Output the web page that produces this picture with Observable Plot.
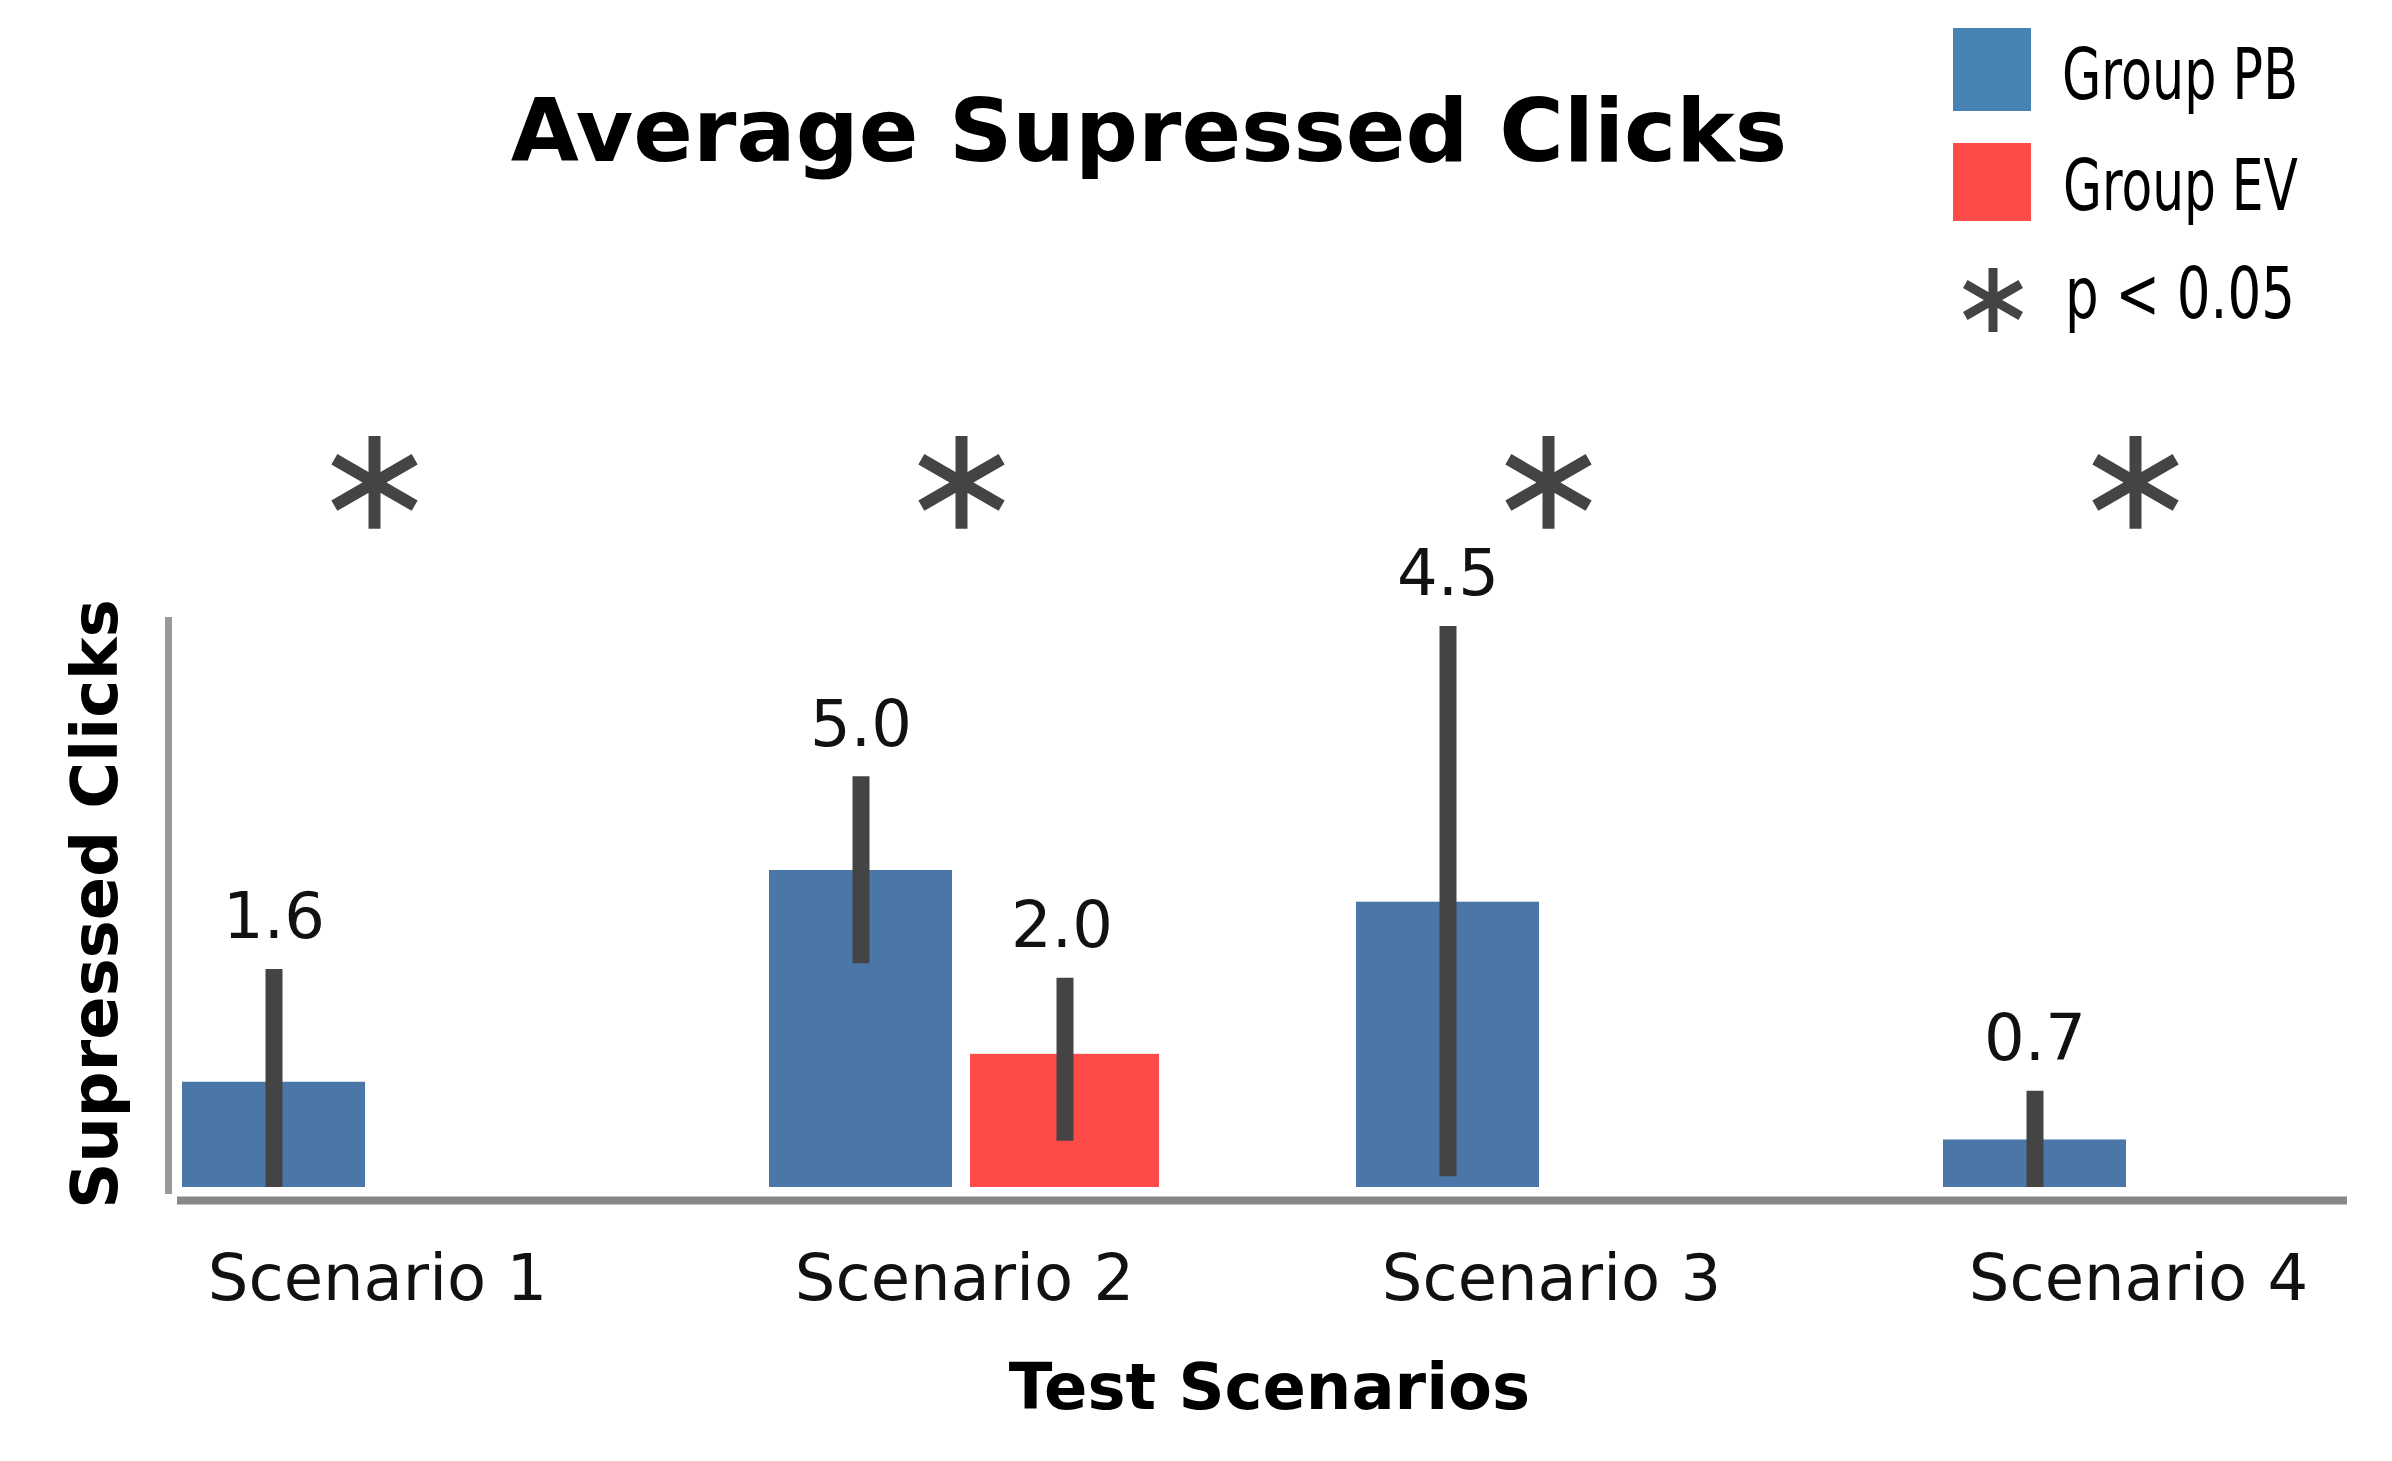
<!DOCTYPE html>
<html>
<head>
<meta charset="utf-8">
<script src="https://cdn.jsdelivr.net/npm/d3@7"></script>
<script src="https://cdn.jsdelivr.net/npm/@observablehq/plot@0.6"></script>
<style>
  html, body { margin: 0; padding: 0; background: #ffffff; }
  #wrap { width: 2392px; height: 1461px; position: relative; overflow: hidden; font-family: "DejaVu Sans", Verdana, sans-serif; }
  #header { width: 2392px; height: 400px; position: relative; }
  #chart svg { display: block; }
</style>
</head>
<body>
<div id="wrap">
  <div id="header"></div>
  <div id="chart"></div>
</div>
<script>
// ---------- data ----------
const title = "Average Supressed Clicks";
const xTitle = "Test Scenarios";
const yTitle = "Supressed Clicks";
const scenarios = ["Scenario 1", "Scenario 2", "Scenario 3", "Scenario 4"];
const groups = ["Group PB", "Group EV"];
const groupColors = ["#4a77a8", "#ff4a4a"];
const legendColors = ["#4682b4", "#ff4a4a"];
const significanceLabel = "p < 0.05";

const barScenario = ["Scenario 1", "Scenario 2", "Scenario 2", "Scenario 3", "Scenario 4"];
const barGroup    = ["Group PB",   "Group PB",   "Group EV",   "Group PB",   "Group PB"];
const barValue    = [1.66, 5.0, 2.1, 4.5, 0.75];
const barLabel    = ["1.6", "5.0", "2.0", "4.5", "0.7"];
const errLow      = [0, 3.53, 0.73, 0.17, 0];
const errHigh     = [3.44, 6.48, 3.30, 8.85, 1.52];

const sigScenario = ["Scenario 1", "Scenario 2", "Scenario 3", "Scenario 4"];
const sigLevel    = [11.12, 11.12, 11.12, 11.12];

// ---------- table built from the arrays ----------
const bars = barScenario.map((s, i) => ({
  scenario: s, group: barGroup[i], value: barValue[i],
  label: barLabel[i], lo: errLow[i], hi: errHigh[i]
}));
const pb = bars.filter(d => d.group === groups[0]);
const ev = bars.filter(d => d.group === groups[1]);
const sig = sigScenario.map((s, i) => ({scenario: s, y: sigLevel[i]}));

// ---------- layout ----------
const W = 2392, HEADER = 400, H = 1461 - HEADER;
const bandwidth = 385, barW = 184, evBarW = 190, offset = 100.5;

const chart = Plot.plot({
  width: W,
  height: H,
  marginLeft: 177,
  marginRight: 45,
  marginTop: 220,
  marginBottom: 274,
  style: {fontFamily: "DejaVu Sans, Verdana, sans-serif", background: "#ffffff", color: "#000"},
  x: {domain: scenarios, range: [182, 2330], paddingInner: 0.345, paddingOuter: 0, align: 0},
  y: {domain: [0, 8.943], axis: null},
  color: {domain: groups, range: groupColors},
  marks: [
    Plot.axisX({tickSize: 0, tickPadding: 67, fontSize: 64, label: null, fill: "#111", dx: 3}),
    Plot.frame({anchor: "left", stroke: "#999", strokeWidth: 7, insetLeft: -9, insetBottom: -3}),
    Plot.barY(pb, {x: "scenario", y: "value", fill: "group", insetRight: bandwidth - barW}),
    Plot.barY(ev, {x: "scenario", y: "value", fill: "group", insetLeft: bandwidth - barW, insetRight: barW - evBarW}),
    Plot.ruleY([0], {stroke: "#888", strokeWidth: 8, dy: 13}),
    Plot.ruleX(pb, {x: "scenario", y1: "lo", y2: "hi", stroke: "#444", strokeWidth: 17, dx: -offset}),
    Plot.ruleX(ev, {x: "scenario", y1: "lo", y2: "hi", stroke: "#444", strokeWidth: 17, dx: offset + 3}),
    Plot.text(pb, {x: "scenario", y: "hi", text: "label", dx: -offset, dy: -31, lineAnchor: "bottom", fontSize: 64, fill: "#111"}),
    Plot.text(ev, {x: "scenario", y: "hi", text: "label", dx: offset, dy: -31, lineAnchor: "bottom", fontSize: 64, fill: "#111"}),
    Plot.dot(sig, {x: "scenario", y: "y", symbol: "asterisk", r: 44, stroke: "#444", strokeWidth: 12}),
    Plot.text([xTitle], {frameAnchor: "bottom", textAnchor: "middle", dx: 7, dy: 201, lineAnchor: "middle", fontSize: 64, fontWeight: "bold", fill: "#000"}),
    Plot.text([yTitle], {frameAnchor: "left", textAnchor: "middle", rotate: -90, dx: -80.5, lineAnchor: "middle", fontSize: 64, fontWeight: "bold", fill: "#000"})
  ]
});
document.getElementById("chart").appendChild(chart);

// ---------- header: title + legend ----------
const hdr = d3.select("#header").append("svg")
  .attr("width", W).attr("height", HEADER)
  .style("display", "block")
  .attr("font-family", "DejaVu Sans, Verdana, sans-serif");

hdr.append("text")
  .attr("x", 1149).attr("y", 161)
  .attr("text-anchor", "middle")
  .attr("font-size", 88).attr("font-weight", "bold")
  .attr("fill", "#000")
  .text(title);

const swatch = [{y: 28, h: 83}, {y: 143, h: 78}];
const legendText = [...groups, significanceLabel];
const legendBaseline = [99, 210, 318];
const legendLeft = [2062, 2063, 2065];
const legendWidth = [236, 235, 230];

groups.forEach((g, i) => {
  hdr.append("rect")
    .attr("x", 1953).attr("y", swatch[i].y)
    .attr("width", 78).attr("height", swatch[i].h)
    .attr("fill", legendColors[i]);
});
hdr.append("path")
  .attr("d", d3.symbol(d3.symbolAsterisk, 2900)())
  .attr("transform", "translate(1993,300)")
  .attr("fill", "none").attr("stroke", "#444").attr("stroke-width", 9);

legendText.forEach((t, i) => {
  const txt = hdr.append("text")
    .attr("x", 0).attr("y", 0)
    .attr("font-size", 72)
    .attr("fill", "#000")
    .text(t);
  const natural = txt.node().getComputedTextLength() || legendWidth[i];
  const sx = legendWidth[i] / natural;
  txt.attr("transform", `translate(${legendLeft[i]},${legendBaseline[i]}) scale(${sx.toFixed(4)},1)`);
});
</script>
</body>
</html>
